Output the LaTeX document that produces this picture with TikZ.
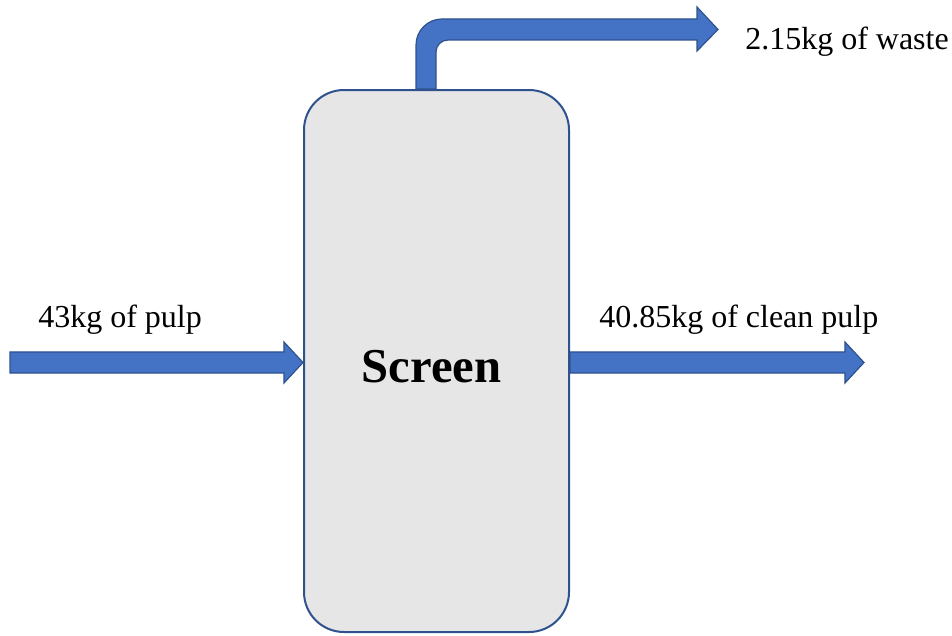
\documentclass[tikz,border=0pt]{standalone}
\usepackage{fontspec}
\setmainfont{Liberation Serif}
\usetikzlibrary{positioning,calc}
\definecolor{flowblue}{HTML}{4472C4}
\definecolor{flowline}{HTML}{2F528F}
\definecolor{unitgray}{HTML}{E6E6E6}
\tikzset{
  unitbox/.style={rectangle,rounded corners=30pt,draw=flowline,fill=unitgray,
    line width=1.5pt,minimum width=198.75pt,minimum height=406.5pt,inner sep=0pt},
  flow/.style={draw=flowline,fill=flowblue,line width=0.9pt,line join=miter},
  flowlabel/.style={font=\fontsize{24}{28}\selectfont,inner sep=0pt},
}
% straight block arrow between two named points (same height)
\newcommand{\harrow}[2]{%
  \path[flow] let \p1=(#1), \p2=(#2) in
    (\x1,\y1+7.9pt) -- (\x2-14.3pt,\y1+7.9pt) -- (\x2-14.3pt,\y1+15.4pt)
    -- (\x2,\y1) -- (\x2-14.3pt,\y1-15.4pt) -- (\x2-14.3pt,\y1-7.9pt)
    -- (\x1,\y1-7.9pt) -- cycle;}
\begin{document}
\begin{tikzpicture}[x=0.75pt,y=-0.75pt]
  \useasboundingbox (0,0) rectangle (952,635);
  % --- the screen unit ---
  \node[unitbox] (screen) at (436.5,361) {};
  \node[font=\fontsize{36.5}{42}\selectfont\bfseries,inner sep=0pt,anchor=base]
    (screenname) at ($(screen.center)+(-5,21)$) {Screen};
  % --- feed and accepts ---
  \coordinate (feed) at (10,362.5);
  \coordinate (feedend) at (screen.west |- feed);
  \coordinate (acceptstart) at (screen.east |- feed);
  \coordinate (accept) at (864,362.5);
  \harrow{feed}{feedend}
  \harrow{acceptstart}{accept}
  % --- rejects leave through the top ---
  \coordinate (reject) at ($(screen.north)+(-10.5,0)$);
  \path[flow] ($(reject)+(-10,0)$) [rounded corners=19.5pt] -- ($(reject)+(-10,-70)$)
    [sharp corners] -- ($(reject)+(271,-70)$) -- ($(reject)+(271,-82)$)
    -- ($(reject)+(292,-59.5)$) -- ($(reject)+(271,-38)$) -- ($(reject)+(271,-49)$)
    [rounded corners=9pt] -- ($(reject)+(10,-49)$) [sharp corners]
    -- ($(reject)+(10,0)$) -- cycle;
  % --- stream labels ---
  \node[flowlabel,anchor=base west] (feedlabel) at (38,327) {43kg of pulp};
  \node[flowlabel,anchor=base west] (acceptlabel) at (599,327) {40.85kg of clean pulp};
  \node[flowlabel,anchor=base west] (rejectlabel) at (745,50) {2.15kg of waste};
\end{tikzpicture}
\end{document}
